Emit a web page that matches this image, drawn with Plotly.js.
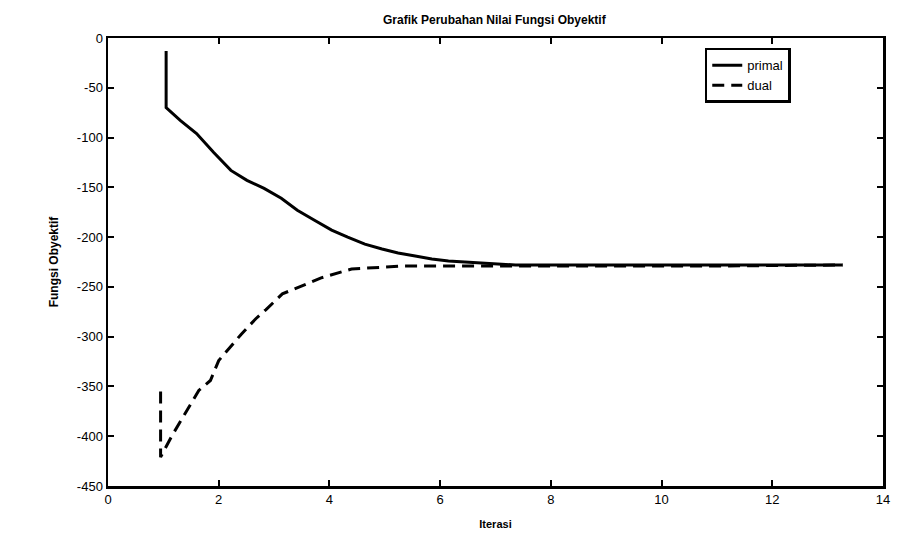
<!DOCTYPE html>
<html>
<head>
<meta charset="utf-8">
<script src="https://cdn.plot.ly/plotly-3.0.1.min.js"></script>
<style>html,body{margin:0;padding:0;background:#fff;}#chart{width:907px;height:552px;}</style>
</head>
<body>
<div id="chart"></div>
<script>
// Primal objective values
var primalX = [1.05, 1.05, 1.31, 1.60, 1.91, 2.22, 2.51, 2.82, 3.13, 3.42, 3.73, 4.04, 4.33, 4.64, 4.95, 5.24, 5.55, 5.85, 6.15, 6.76, 7.36, 8.5, 10.0, 11.5, 13.27];
var primalY = [-13, -70, -83, -96, -115, -133, -143, -151, -161, -173, -183, -193, -200, -207, -212, -216, -219, -222, -224, -226, -228, -228, -228, -228, -228];
// Dual objective values
var dualX = [0.95, 0.95, 1.15, 1.45, 1.64, 1.85, 2.00, 2.40, 2.67, 2.85, 3.15, 3.85, 4.40, 5.36, 7.0, 9.0, 11.0, 13.27];
var dualY = [-355, -421, -400, -371, -354, -344, -324, -298, -282, -273, -257, -241, -232, -229, -229, -229, -229, -228];

var xTicks = [0, 2, 4, 6, 8, 10, 12, 14];
var yTicks = [0, -50, -100, -150, -200, -250, -300, -350, -400, -450];

var fontFam = "Liberation Sans, Arial, sans-serif";

var traces = [
  {x: primalX, y: primalY, name: 'primal', mode: 'lines', line: {color: '#000', width: 3}},
  {x: dualX, y: dualY, name: 'dual', mode: 'lines', line: {color: '#000', width: 3, dash: '12px,7px'}}
];

var layout = {
  width: 907, height: 552,
  margin: {l: 108, r: 24, t: 38, b: 66},
  paper_bgcolor: '#fff', plot_bgcolor: '#fff',
  font: {family: fontFam, color: '#000', size: 12},
  title: {text: '<b>Grafik Perubahan Nilai Fungsi Obyektif</b>', x: 0.545, xanchor: 'center', y: 0.965, yanchor: 'middle', font: {size: 12, family: fontFam}},
  xaxis: {
    range: [0, 14], tickvals: xTicks, ticktext: xTicks.map(String),
    ticks: 'inside', ticklen: 6, tickwidth: 2, tickcolor: '#000',
    showline: true, linecolor: '#000', linewidth: 2.5, mirror: 'ticks',
    showgrid: false, zeroline: false,
    tickfont: {size: 13, family: fontFam},
    title: {text: '<b>Iterasi</b>', font: {size: 11, family: fontFam}, standoff: 14}
  },
  yaxis: {
    range: [-450, 0], tickvals: yTicks, ticktext: yTicks.map(String),
    ticks: 'inside', ticklen: 6, tickwidth: 2, tickcolor: '#000',
    showline: true, linecolor: '#000', linewidth: 2.5, mirror: 'ticks',
    showgrid: false, zeroline: false,
    tickfont: {size: 13, family: fontFam},
    title: {text: '<b>Fungsi Obyektif</b>', font: {size: 12, family: fontFam}, standoff: 16}
  },
  showlegend: true,
  legend: {
    x: 0.77, y: 0.978, xanchor: 'left', yanchor: 'top',
    bgcolor: '#fff', bordercolor: '#000', borderwidth: 2.5,
    font: {size: 13, family: fontFam}, tracegroupgap: 2,
    entrywidth: 125, entrywidthmode: 'pixels'
  }
};

Plotly.newPlot('chart', traces, layout, {displayModeBar: false, staticPlot: true});
</script>
</body>
</html>
